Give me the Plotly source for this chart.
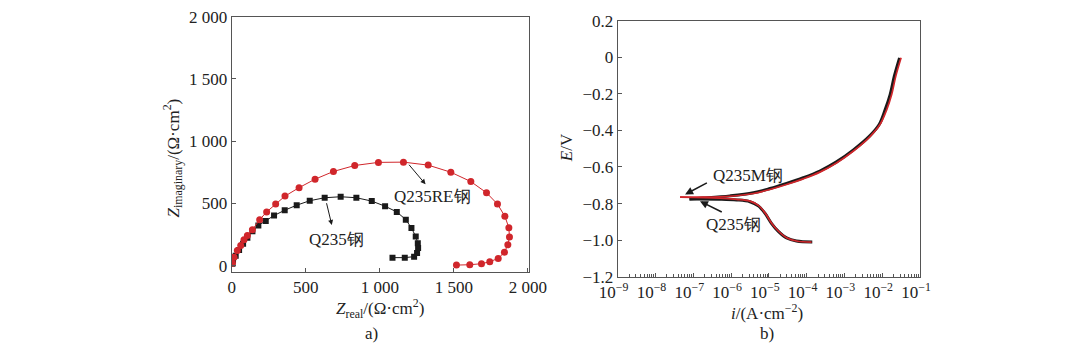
import plotly.graph_objects as go

W, H = 1080, 359
FONT = "Liberation Serif"
RED = "#d0262b"
BLACK = "#1a1a1a"
FRAME = "#555555"

# ---------------- Panel a: Nyquist data ----------------
re_zreal = [5, 16, 38, 61, 83, 106, 140, 189, 236, 297, 360, 455, 563, 687, 831, 991,
            1160, 1327, 1480, 1615, 1721, 1795, 1845, 1872, 1876, 1865, 1842, 1800,
            1743, 1687, 1608, 1518]
re_zimag = [20, 68, 122, 162, 208, 243, 289, 370, 432, 495, 559, 627, 695, 757, 805, 830,
            832, 808, 751, 676, 586, 495, 397, 305, 230, 168, 108, 59, 32, 16, 8, 5]
q_zreal = [5, 9, 27, 50, 77, 106, 140, 180, 230, 286, 358, 439, 527, 628, 736, 842, 946,
           1036, 1115, 1176, 1214, 1243, 1257, 1259, 1252, 1232, 1169, 1086]
q_zimag = [15, 41, 81, 127, 176, 224, 276, 324, 359, 403, 446, 486, 522, 546, 554, 546,
           519, 478, 432, 370, 303, 235, 181, 143, 103, 73, 65, 65]

a_xticks = [0, 500, 1000, 1500, 2000]
a_xtext = ["0", "500", "1 000", "1 500", "2 000"]
a_yticks = [0, 500, 1000, 1500, 2000]
a_ytext = ["0", "500", "1 000", "1 500", "2 000"]

# ---------------- Panel b: polarization data ----------------
# Q235M steel (red)
m_an_i = [4.47e-8, 1.82e-7, 9.33e-7, 3.89e-6, 1.07e-5, 2.95e-5, 8.13e-5, 2.24e-4,
          6.17e-4, 1.70e-3, 4.68e-3, 8.71e-3, 1.32e-2, 1.78e-2, 2.29e-2, 3.16e-2]
m_an_e = [-0.765, -0.765, -0.760, -0.745, -0.723, -0.696, -0.665, -0.628,
          -0.578, -0.514, -0.435, -0.368, -0.286, -0.204, -0.103, -0.003]
m_ca_i = [4.47e-8, 5.01e-7, 1.41e-6, 3.16e-6, 5.25e-6, 7.94e-6, 1.17e-5, 1.78e-5,
          2.95e-5, 5.37e-5, 1.35e-4]
m_ca_e = [-0.765, -0.770, -0.777, -0.787, -0.810, -0.851, -0.906, -0.950,
          -0.987, -1.005, -1.011]
# Q235 steel (black)
q_an_i = [7.94e-8, 1.82e-7, 9.33e-7, 3.89e-6, 1.07e-5, 2.95e-5, 8.13e-5, 2.24e-4,
          6.17e-4, 1.70e-3, 4.68e-3, 8.32e-3, 1.20e-2, 1.62e-2, 2.09e-2, 2.88e-2]
q_an_e = [-0.775, -0.770, -0.758, -0.741, -0.718, -0.690, -0.659, -0.622,
          -0.572, -0.508, -0.430, -0.368, -0.286, -0.204, -0.103, -0.003]
q_ca_i = [7.94e-8, 5.01e-7, 1.41e-6, 3.16e-6, 5.25e-6, 7.94e-6, 1.17e-5, 1.78e-5,
          2.95e-5, 5.37e-5, 1.41e-4]
q_ca_e = [-0.775, -0.776, -0.780, -0.790, -0.813, -0.854, -0.908, -0.952,
          -0.988, -1.005, -1.010]

b_xexp = [-9, -8, -7, -6, -5, -4, -3, -2, -1]
b_yticks = [0.2, 0, -0.2, -0.4, -0.6, -0.8, -1.0, -1.2]
b_ytext = ["0.2", "0", "\u22120.2", "\u22120.4", "\u22120.6", "\u22120.8", "\u22121.0", "\u22121.2"]


def px(x):
    return x / W


def py(y):
    return 1 - y / H


fig = go.Figure()

# Panel a traces
fig.add_trace(go.Scatter(x=q_zreal, y=q_zimag, mode="lines+markers", xaxis="x", yaxis="y",
                         line=dict(color=BLACK, width=1),
                         marker=dict(symbol="square", size=6, color=BLACK)))
fig.add_trace(go.Scatter(x=re_zreal, y=re_zimag, mode="lines+markers", xaxis="x", yaxis="y",
                         line=dict(color=RED, width=1),
                         marker=dict(symbol="circle", size=7, color=RED)))

# Panel b traces
for xs, ys in [(q_an_i, q_an_e), (q_ca_i, q_ca_e)]:
    fig.add_trace(go.Scatter(x=xs, y=ys, mode="lines", xaxis="x2", yaxis="y2",
                             line=dict(color=BLACK, width=3, shape="spline", smoothing=1.0)))
for xs, ys in [(m_an_i, m_an_e), (m_ca_i, m_ca_e)]:
    fig.add_trace(go.Scatter(x=xs, y=ys, mode="lines", xaxis="x2", yaxis="y2",
                             line=dict(color=RED, width=1.7, shape="spline", smoothing=1.0)))

axis_common = dict(showline=True, mirror=True, linecolor=FRAME, linewidth=1,
                   showgrid=False, zeroline=False, ticks="inside", ticklen=4,
                   tickcolor=FRAME, automargin=False,
                   tickfont=dict(family=FONT, size=17, color="#222"))

fig.update_layout(
    width=W, height=H, margin=dict(l=0, r=0, t=0, b=0, autoexpand=False),
    paper_bgcolor="white", plot_bgcolor="white", showlegend=False,
    font=dict(family=FONT, size=17, color="#222"),
    xaxis=dict(domain=[px(231.7), px(529.3)], range=[0, 2010], anchor="y",
               tickvals=a_xticks, ticktext=a_xtext, **axis_common),
    yaxis=dict(domain=[py(271.7), py(16.7)], range=[-48, 2000], anchor="x",
               tickvals=a_yticks, ticktext=a_ytext, **axis_common),
    xaxis2=dict(domain=[px(617.7), px(920)], type="log", range=[-9, -1], anchor="y2",
                tickvals=[10 ** e for e in b_xexp],
                ticktext=["10<sup>\u2212%d</sup>" % (-e) for e in b_xexp],
                ticklabelshift=-4,
                minor=dict(ticks="inside", ticklen=2.5, tickcolor=FRAME, dtick="D1",
                           showgrid=False),
                **axis_common),
    yaxis2=dict(domain=[py(276.7), py(20.7)], range=[-1.2, 0.2], anchor="x2",
                tickvals=b_yticks, ticktext=b_ytext, **axis_common),
)

ann = []
# Axis titles and panel labels
ann.append(dict(text="<i>Z</i><sub>real</sub>/(\u03a9\u00b7cm<sup>2</sup>)",
                x=px(380), y=py(308), xref="paper", yref="paper", showarrow=False,
                xanchor="center", yanchor="middle"))
ann.append(dict(text="<i>Z</i><sub>imaginary</sub>/(\u03a9\u00b7cm<sup>2</sup>)",
                x=px(173), y=py(158.5), xref="paper", yref="paper", showarrow=False,
                textangle=-90, xanchor="center", yanchor="middle"))
ann.append(dict(text="a)", x=px(371.7), y=py(333), xref="paper", yref="paper",
                showarrow=False, xanchor="center", yanchor="middle"))
ann.append(dict(text="<i>i</i>/(A\u00b7cm<sup>\u22122</sup>)",
                x=px(766.7), y=py(311.7), xref="paper", yref="paper", showarrow=False,
                xanchor="center", yanchor="middle"))
ann.append(dict(text="<i>E</i>/V", x=px(566.7), y=py(147.5), xref="paper", yref="paper",
                showarrow=False, textangle=-90, xanchor="center", yanchor="middle"))
ann.append(dict(text="b)", x=px(766.7), y=py(333), xref="paper", yref="paper",
                showarrow=False, xanchor="center", yanchor="middle"))

# Panel a labels + arrows
ann.append(dict(text="Q235RE钢", x=1354, y=560, xref="x", yref="y", showarrow=False))
ann.append(dict(text="", x=1309, y=654, xref="x", yref="y", showarrow=True,
                ax=-17.7, ay=-21, arrowhead=2, arrowsize=1, arrowwidth=1, arrowcolor=BLACK))
ann.append(dict(text="Q235钢", x=705, y=214, xref="x", yref="y", showarrow=False))
ann.append(dict(text="", x=676, y=327, xref="x", yref="y", showarrow=True,
                ax=-5.6, ay=-23.3, arrowhead=2, arrowsize=1, arrowwidth=1, arrowcolor=BLACK))

# Panel b labels + arrows (log axis: x in log10 units)
ann.append(dict(text="Q235M钢", x=-5.545, y=-0.645, xref="x2", yref="y2", showarrow=False))
ann.append(dict(text="", x=-7.217, y=-0.750, xref="x2", yref="y2", showarrow=True,
                ax=23.3, ay=-12.3, arrowhead=2, arrowsize=1, arrowwidth=1.6, arrowcolor=BLACK))
ann.append(dict(text="Q235钢", x=-5.94, y=-0.914, xref="x2", yref="y2", showarrow=False))
ann.append(dict(text="", x=-6.823, y=-0.787, xref="x2", yref="y2", showarrow=True,
                ax=23.3, ay=11.6, arrowhead=2, arrowsize=1, arrowwidth=1.6, arrowcolor=BLACK))

fig.update_layout(annotations=ann)

fig.write_html("out.html", config={"displayModeBar": False},
               post_script="document.body.style.margin='0';document.body.style.padding='0';")
